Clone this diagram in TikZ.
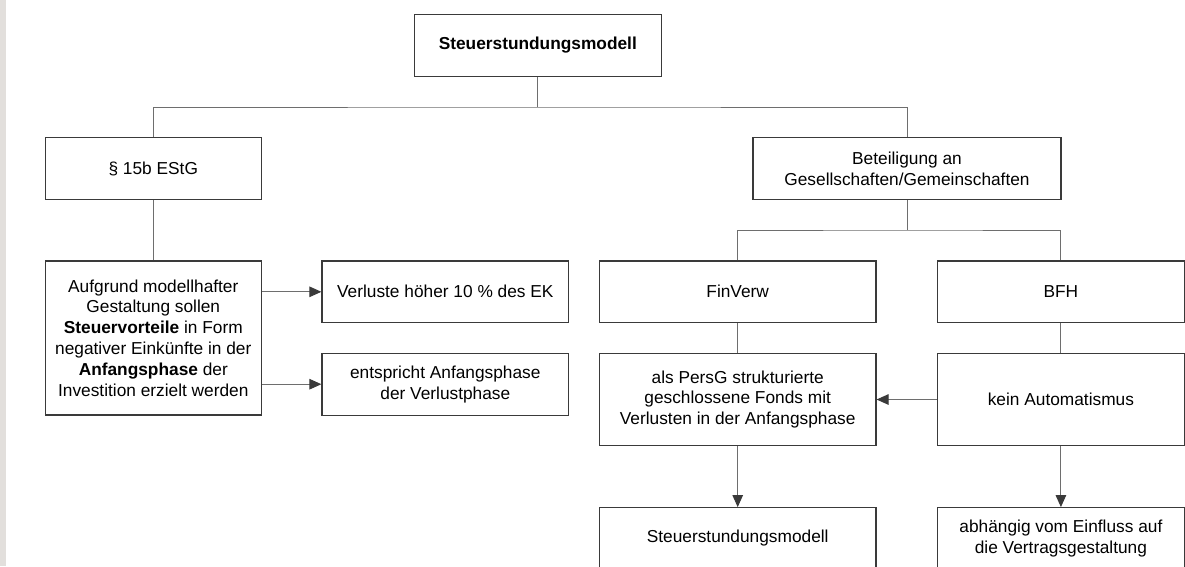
\documentclass[tikz,border=0pt]{standalone}
\usepackage{fontspec}
\setmainfont{Liberation Sans}
\usetikzlibrary{arrows.meta}
\definecolor{boxline}{HTML}{3A3A3A}
\definecolor{connline}{HTML}{6E6E6E}
\definecolor{sidebar}{HTML}{E2DFDC}
\tikzset{
  box/.style={draw=boxline, line width=1.1pt, fill=white, align=center, inner sep=0pt,
              font=\fontsize{17.3}{20.8}\selectfont},
  conn/.style={draw=connline, line width=1pt},
  flow/.style={conn, -{Triangle[length=12pt,width=10.5pt,color=boxline]}},
}
\begin{document}
\begin{tikzpicture}[x=1pt,y=-1pt]
  \useasboundingbox (0,0) rectangle (1185,566);
  \clip (0,0) rectangle (1185,566);
  \fill[white] (0,0) rectangle (1185,566);
  \fill[sidebar] (0,0) rectangle (6,566);

  % level 0
  \node[box, minimum width=246.5pt, minimum height=61.6pt] (top) at (537.8,45.5)
    {\textbf{Steuerstundungsmodell}};

  % level 1
  \node[box, minimum width=215.5pt, minimum height=61.6pt] (par) at (153.3,168.5)
    {§ 15b EStG};
  \node[box, minimum width=308pt, minimum height=61.6pt] (beteil) at (907,168.5)
    {Beteiligung an\\Gesellschaften/Gemeinschaften};

  % left branch
  \node[box, minimum width=215.5pt, minimum height=154pt] (aufgrund) at (153.3,338)
    {Aufgrund modellhafter\\Gestaltung sollen\\\textbf{Steuervorteile} in Form\\negativer Einkünfte in der\\\textbf{Anfangsphase} der\\Investition erzielt werden};
  \node[box, minimum width=246.7pt, minimum height=61.7pt] (verl) at (445.3,291.8)
    {Verluste höher 10 \% des EK};
  \node[box, minimum width=246.7pt, minimum height=61.7pt] (entspr) at (445.3,384.2)
    {entspricht Anfangsphase\\der Verlustphase};

  % right branch
  \node[box, minimum width=276.6pt, minimum height=61.7pt] (finverw) at (737.7,291.8)
    {FinVerw};
  \node[box, minimum width=246.3pt, minimum height=61.7pt] (bfh) at (1060.9,291.8)
    {BFH};
  \node[box, minimum width=276.6pt, minimum height=92.4pt] (persg) at (737.7,399.5)
    {als PersG strukturierte\\geschlossene Fonds mit\\Verlusten in der Anfangsphase};
  \node[box, minimum width=246.3pt, minimum height=92.4pt] (kein) at (1060.9,399.5)
    {kein Automatismus};
  \node[box, minimum width=276.6pt, minimum height=61.7pt] (stm) at (737.7,538.5)
    {Steuerstundungsmodell};
  \node[box, minimum width=246.3pt, minimum height=61.7pt] (abh) at (1060.9,538.5)
    {abhängig vom Einfluss auf\\die Vertragsgestaltung};

  % tree connectors
  \coordinate (bus1) at (537.8,107);
  \coordinate (bus2) at (907,230);
  \draw[conn] (top.south) -- (bus1);
  \draw[conn] (par.north) |- (bus1) -| (beteil.north);
  \draw[conn] (beteil.south) -- (bus2);
  \draw[conn] (finverw.north) |- (bus2) -| (bfh.north);
  \draw[conn] (par.south) -- (aufgrund.north);
  \draw[conn] (finverw.south) -- (persg.north);
  \draw[conn] (bfh.south) -- (kein.north);

  % arrows
  \draw[flow] (aufgrund.east |- verl.west) -- (verl.west);
  \draw[flow] (aufgrund.east |- entspr.west) -- (entspr.west);
  \draw[flow] (kein.west) -- (persg.east);
  \draw[flow] (persg.south) -- (stm.north);
  \draw[flow] (kein.south) -- (abh.north);
\end{tikzpicture}
\end{document}
